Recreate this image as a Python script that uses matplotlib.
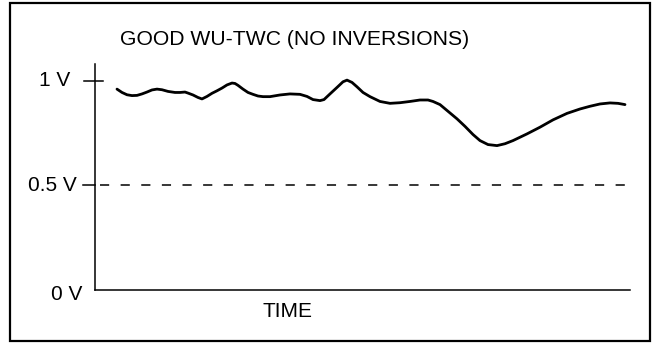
import matplotlib
matplotlib.use('Agg')
import matplotlib.pyplot as plt
from matplotlib.patches import Rectangle

plt.rcParams['font.family'] = ['Liberation Sans', 'DejaVu Sans']

# signal trace (time in arbitrary units, amplitude in volts)
time = [22, 27, 32, 37, 42, 47, 52, 57, 62, 67, 73, 80, 85, 90, 93, 98,
        103, 107, 112, 117, 122, 127, 132, 137, 140, 143, 148, 153, 158,
        163, 168, 175, 185, 195, 205, 212, 218, 225, 229, 235, 242, 248,
        252, 257, 262, 268, 275, 285, 295, 305, 315, 325, 333, 338, 345,
        353, 362, 370, 378, 385, 393, 402, 410, 418, 432, 445, 458, 472,
        485, 495, 505, 515, 523, 530]
volts = [0.960, 0.944, 0.933, 0.929, 0.930, 0.937, 0.946, 0.956, 0.960,
         0.957, 0.949, 0.944, 0.944, 0.946, 0.941, 0.932, 0.920, 0.913,
         0.925, 0.940, 0.952, 0.965, 0.980, 0.989, 0.987, 0.978, 0.960,
         0.944, 0.935, 0.927, 0.924, 0.924, 0.932, 0.937, 0.935, 0.925,
         0.910, 0.905, 0.910, 0.937, 0.968, 0.995, 1.003, 0.992, 0.971,
         0.944, 0.924, 0.901, 0.892, 0.895, 0.901, 0.908, 0.908, 0.901,
         0.886, 0.854, 0.818, 0.782, 0.743, 0.714, 0.695, 0.690, 0.699,
         0.714, 0.746, 0.778, 0.813, 0.844, 0.865, 0.878, 0.889, 0.894,
         0.892, 0.886]

threshold = 0.5
threshold_span = [5, 535]
ytick_vals = [0, 0.5, 1]
ytick_labels = ['0 V', '0.5 V', '1 V']

W, H = 655, 343
fig = plt.figure(figsize=(W / 100, H / 100), dpi=100)

# frame around the whole figure
fig.patches.append(Rectangle((10 / W, 2 / H), 640 / W, 338 / H,
                             transform=fig.transFigure, fill=False,
                             edgecolor='black', linewidth=1.6))

ax = fig.add_axes([95 / W, (H - 290) / H, 535 / W, 226 / H])
ax.set_xlim(0, 535)
ax.set_ylim(0, 1.08)

ax.plot(time, volts, color='black', linewidth=2.0,
        solid_joinstyle='round', solid_capstyle='round')
ax.plot(threshold_span, [threshold, threshold], color='black',
        linewidth=1.1, linestyle=(0, (6, 7.5)))

for side in ['top', 'right']:
    ax.spines[side].set_visible(False)
ax.spines['left'].set_linewidth(1.1)
ax.spines['bottom'].set_linewidth(1.1)

ax.set_xticks([])
ax.set_yticks([])
# short ticks: 1 V crosses the axis, 0.5 V only outside
ax.plot([-11, 8], [1, 1], color='black', linewidth=1.1, clip_on=False)
ax.plot([-12, 0], [0.5, 0.5], color='black', linewidth=1.1, clip_on=False)

# tick labels, right aligned next to the axis
label_x = [-13, -18, -25]
label_y = [-0.02, 0.5, 1]
for lx, ly, txt in zip(label_x, label_y, ytick_labels):
    ax.text(lx, ly, txt, fontsize=15, ha='right', va='center',
            clip_on=False)

ax.text(25, 1.195, 'GOOD WU-TWC (NO INVERSIONS)', fontsize=15.2,
        ha='left', va='center')
ax.text(192.5, -0.105, 'TIME', fontsize=15, ha='center', va='center')

fig.savefig('out.png', dpi=100)
